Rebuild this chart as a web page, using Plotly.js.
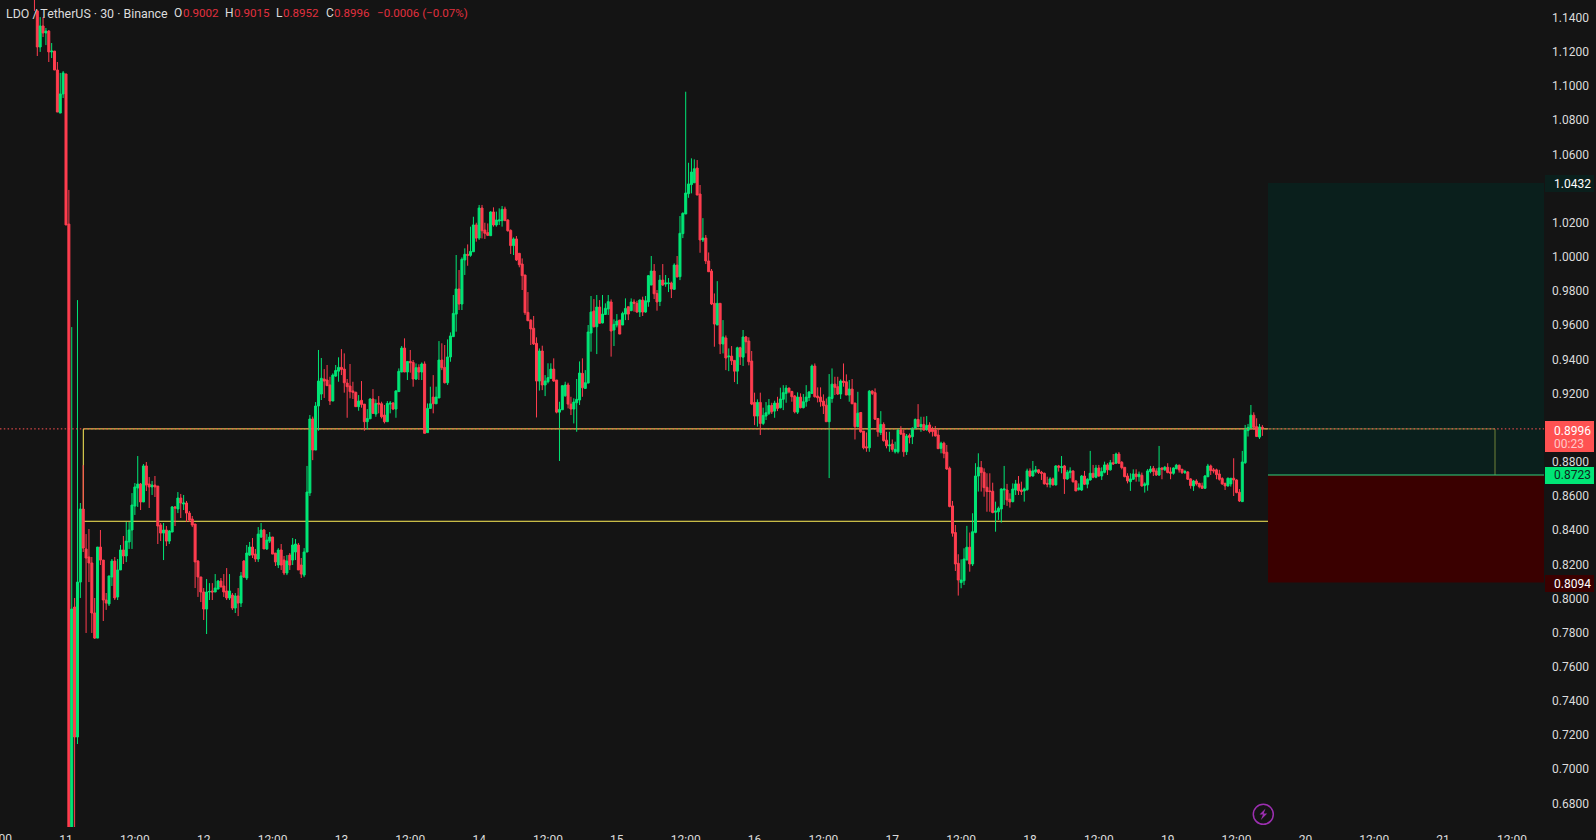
<!DOCTYPE html>
<html><head><meta charset="utf-8">
<script src="https://cdn.plot.ly/plotly-3.0.1.min.js"></script>
<style>html,body{margin:0;padding:0;background:#141414;overflow:hidden}#c{width:1596px;height:840px}</style>
</head><body><div id="c"></div>
<script>
const opens=[1.1600,1.1440,1.1229,1.1352,1.1311,1.1322,1.1200,1.1205,1.1094,1.0842,
1.0954,1.1071,1.0192,.6550,.7950,.7189,.8096,.8524,.8290,.8243,
.8208,.7915,.7768,.8301,.8225,.7991,.7968,.8126,.8219,.8009,
.8167,.8284,.8249,.8331,.8401,.8541,.8647,.8670,.8565,.8776,
.8670,.8653,.8664,.8658,.8430,.8383,.8401,.8336,.8389,.8536,
.8524,.8588,.8553,.8559,.8500,.8465,.8436,.8219,.8126,.8038,
.7938,.8038,.8044,.8038,.8055,.8102,.8073,.8044,.8003,.8020,
.7944,.8015,.7973,.8219,.8120,.8254,.8301,.8260,.8231,.8360,
.8401,.8290,.8336,.8360,.8266,.8196,.8284,.8225,.8149,.8254,
.8225,.8272,.8313,.8196,.8137,.8272,.8618,.9051,.8869,.9127,
.9197,.9285,.9279,.9250,.9156,.9302,.9331,.9353,.9343,.9261,
.9244,.9215,.9207,.9123,.9160,.9138,.9035,.9052,.9168,.9080,
.9144,.9140,.9074,.9035,.9138,.9144,.9109,.9211,.9326,.9466,
.9326,.9388,.9382,.9285,.9353,.9326,.9373,.8971,.9113,.9179,
.9140,.9174,.9396,.9353,.9263,.9414,.9533,.9665,.9812,.9724,
.9982,1.0015,1.0009,1.0030,1.0187,1.0110,1.0286,1.0157,1.0142,1.0124,
1.0263,1.0187,1.0210,1.0212,1.0280,1.0216,1.0155,1.0066,1.0105,1.0021,
.9958,.9894,.9675,.9630,.9582,.9494,.9273,.9449,.9250,.9269,
.9289,.9343,.9279,.9091,.9105,.9187,.9250,.9138,.9109,.9146,
.9162,.9318,.9230,.9261,.9554,.9683,.9591,.9706,.9613,.9663,
.9695,.9736,.9572,.9601,.9630,.9601,.9665,.9708,.9685,.9736,
.9728,.9677,.9747,.9677,.9736,.9835,.9917,.9786,.9739,.9864,
.9841,.9843,.9847,.9810,.9952,.9884,1.0136,1.0251,1.0370,1.0423,
1.0434,1.0520,1.0368,1.0099,1.0110,.9976,.9917,.9728,.9601,.9728,
.9490,.9525,.9415,.9419,.9394,.9331,.9468,.9413,.9531,.9507,
.9390,.9148,.9068,.9148,.9025,.9068,.9084,.9130,.9097,.9144,
.9117,.9166,.9201,.9232,.9212,.9185,.9091,.9179,.9117,.9152,
.9177,.9201,.9361,.9185,.9179,.9156,.9132,.9035,.9171,.9255,
.9240,.9197,.9273,.9269,.9191,.9226,.9144,.9006,.9089,.8980,
.8888,.8882,.9214,.9205,.9054,.8972,.9019,.8927,.8894,.8904,
.8859,.8859,.8986,.8966,.8859,.8955,.8947,.8994,.9048,.9006,
.9019,.8988,.9016,.8991,.8987,.8957,.8879,.8909,.8856,.8762,
.8542,.8386,.8206,.8093,.8104,.8225,.8300,.8202,.8387,.8717,
.8766,.8739,.8651,.8630,.8628,.8505,.8508,.8524,.8635,.8635,
.8581,.8567,.8635,.8671,.8635,.8630,.8637,.8747,.8717,.8743,
.8753,.8739,.8733,.8674,.8669,.8700,.8665,.8776,.8766,.8776,
.8700,.8737,.8747,.8688,.8639,.8635,.8717,.8669,.8694,.8733,
.8710,.8764,.8717,.8739,.8782,.8753,.8795,.8792,.8846,.8797,
.8768,.8717,.8684,.8698,.8729,.8713,.8721,.8661,.8665,.8743,
.8762,.8747,.8723,.8764,.8753,.8768,.8741,.8733,.8760,.8780,
.8756,.8737,.8741,.8700,.8659,.8688,.8674,.8659,.8645,.8713,
.8776,.8753,.8753,.8729,.8702,.8674,.8659,.8671,.8704,.8694,
.8622,.8567,.8795,.8983,.8996,.9073,.9006,.8945,.9002];
const highs=[1.1600,1.1445,1.1404,1.1404,1.1340,1.1328,1.1252,1.1205,1.1141,1.1077,
1.1088,1.1071,1.0392,.9589,.8003,.9747,.8559,.8781,.8377,.8407,
.8243,.8003,.8301,.8401,.8225,.8032,.8132,.8231,.8243,.8231,
.8313,.8366,.8448,.8448,.8617,.8676,.8834,.8676,.8787,.8799,
.8711,.8688,.8717,.8658,.8442,.8442,.8424,.8401,.8541,.8541,
.8623,.8612,.8606,.8571,.8512,.8483,.8436,.8225,.8126,.8061,
.8114,.8090,.8090,.8143,.8108,.8120,.8143,.8178,.8143,.8032,
.8032,.8061,.8155,.8225,.8313,.8331,.8354,.8290,.8418,.8442,
.8407,.8377,.8389,.8360,.8266,.8295,.8319,.8249,.8254,.8266,
.8354,.8348,.8325,.8237,.8295,.8776,.9074,.9065,.9150,.9455,
.9408,.9343,.9367,.9298,.9318,.9367,.9412,.9460,.9435,.9285,
.9373,.9269,.9211,.9191,.9273,.9138,.9109,.9172,.9226,.9166,
.9185,.9152,.9133,.9156,.9156,.9150,.9220,.9347,.9478,.9523,
.9388,.9455,.9396,.9376,.9371,.9382,.9388,.9142,.9240,.9308,
.9240,.9507,.9494,.9484,.9517,.9558,.9777,1.0011,.9923,.9997,
1.0050,1.0073,1.0177,1.0235,1.0200,1.0304,1.0304,1.0200,1.0196,1.0267,
1.0290,1.0265,1.0284,1.0298,1.0294,1.0220,1.0161,1.0114,1.0122,1.0021,
.9991,.9894,.9794,.9634,.9654,.9529,.9464,.9480,.9308,.9377,
.9377,.9406,.9279,.9152,.9246,.9269,.9263,.9181,.9172,.9285,
.9388,.9406,.9337,.9601,.9771,.9753,.9777,.9747,.9777,.9728,
.9777,.9751,.9634,.9665,.9630,.9679,.9757,.9708,.9757,.9751,
.9743,.9751,.9767,.9771,.9894,1.0005,.9958,.9806,.9894,.9958,
.9894,.9876,.9855,.9962,1.0005,1.0239,1.0261,1.0967,1.0551,1.0577,
1.0571,1.0567,1.0421,1.0227,1.0128,1.0026,.9929,.9786,.9858,.9728,
.9630,.9540,.9464,.9478,.9396,.9474,.9474,.9572,.9537,.9529,
.9449,.9205,.9166,.9205,.9117,.9150,.9168,.9146,.9158,.9181,
.9234,.9249,.9249,.9234,.9216,.9191,.9207,.9201,.9197,.9249,
.9214,.9370,.9376,.9236,.9236,.9195,.9171,.9314,.9347,.9298,
.9298,.9283,.9376,.9312,.9279,.9285,.9146,.9210,.9089,.8980,
.8972,.9220,.9220,.9230,.9054,.9097,.9031,.8976,.8976,.8931,
.8918,.8996,.9009,.8990,.8963,.8966,.9002,.9054,.9138,.9064,
.9064,.9068,.9032,.9006,.9010,.8996,.8918,.8918,.8899,.8772,
.8571,.8430,.8259,.8229,.8294,.8425,.8386,.8499,.8792,.8850,
.8805,.8762,.8733,.8733,.8678,.8567,.8538,.8645,.8776,.8671,
.8616,.8674,.8694,.8717,.8684,.8649,.8760,.8762,.8805,.8776,
.8756,.8747,.8737,.8713,.8710,.8708,.8780,.8782,.8834,.8782,
.8753,.8768,.8749,.8694,.8674,.8723,.8747,.8704,.8864,.8782,
.8782,.8782,.8768,.8801,.8792,.8811,.8846,.8854,.8858,.8805,
.8768,.8733,.8733,.8756,.8756,.8743,.8737,.8680,.8758,.8776,
.8776,.8762,.8893,.8768,.8776,.8792,.8768,.8768,.8788,.8784,
.8760,.8753,.8745,.8704,.8694,.8698,.8678,.8678,.8723,.8788,
.8784,.8764,.8760,.8753,.8710,.8678,.8708,.8704,.8821,.8698,
.8641,.8864,.9016,.9022,.9133,.9090,.9055,.9022,.9015];
const lows=[1.1440,1.1176,1.1200,1.1287,1.1240,1.1141,1.1164,1.1094,1.0848,1.0842,
1.0930,1.0187,.6500,.6500,.6550,.7148,.8003,.8272,.7798,.8096,
.7798,.7763,.7768,.8196,.7868,.7933,.7956,.8073,.7991,.7991,
.8167,.8202,.8213,.8290,.8290,.8489,.8536,.8518,.8565,.8629,
.8530,.8606,.8594,.8319,.8336,.8225,.8307,.8319,.8389,.8424,
.8500,.8471,.8518,.8448,.8448,.8418,.8061,.8009,.7979,.7874,
.7792,.7991,.7991,.8038,.8055,.8067,.8009,.7991,.7991,.7933,
.7915,.7897,.7950,.8120,.8108,.8249,.8237,.8214,.8214,.8354,
.8290,.8284,.8325,.8260,.8190,.8178,.8167,.8137,.8137,.8167,
.8196,.8225,.8167,.8120,.8125,.8272,.8600,.8810,.8869,.8982,
.9162,.9174,.9244,.9133,.9156,.9298,.9269,.9308,.9205,.9058,
.9172,.9168,.9123,.9099,.9117,.8982,.8990,.9052,.9080,.9064,
.9084,.9054,.9025,.9035,.9084,.9103,.9058,.9211,.9326,.9326,
.9279,.9322,.9240,.9279,.9279,.9279,.8967,.8971,.9113,.9084,
.9140,.9174,.9337,.9259,.9250,.9386,.9533,.9562,.9689,.9689,
.9894,.9948,1.0001,1.0030,1.0089,1.0099,1.0108,1.0105,1.0122,1.0124,
1.0177,1.0177,1.0187,1.0177,1.0212,1.0148,1.0017,1.0011,.9976,.9939,
.9806,.9660,.9626,.9484,.9484,.9060,.9217,.9220,.9185,.9259,
.9285,.9269,.9084,.8805,.9105,.9181,.9113,.9074,.9025,.8976,
.9133,.9181,.9230,.9261,.9445,.9587,.9431,.9611,.9611,.9660,
.9660,.9416,.9478,.9587,.9548,.9601,.9630,.9630,.9685,.9679,
.9673,.9648,.9654,.9673,.9708,.9835,.9753,.9685,.9712,.9831,
.9825,.9794,.9759,.9810,.9882,.9864,1.0110,1.0251,1.0346,1.0372,
1.0434,1.0362,1.0024,1.0087,.9958,.9913,.9718,.9474,.9601,.9431,
.9435,.9337,.9331,.9367,.9267,.9255,.9367,.9361,.9435,.9365,
.9132,.9015,.9006,.8957,.9015,.9045,.9074,.9080,.9058,.9097,
.9113,.9103,.9146,.9201,.9152,.9084,.9080,.9113,.9113,.9123,
.9156,.9197,.9177,.9148,.9123,.9080,.9035,.8705,.9146,.9191,
.9191,.9168,.9240,.9191,.9152,.9138,.8931,.9002,.8970,.8873,
.8859,.8859,.9191,.9045,.8947,.8957,.8918,.8879,.8859,.8859,
.8849,.8849,.8957,.8830,.8840,.8908,.8904,.8994,.9002,.8976,
.8982,.8982,.8967,.8948,.8948,.8877,.8850,.8821,.8753,.8534,
.8362,.8161,.8017,.8060,.8079,.8225,.8157,.8190,.8382,.8626,
.8626,.8596,.8508,.8508,.8499,.8391,.8460,.8444,.8548,.8542,
.8532,.8563,.8606,.8606,.8606,.8567,.8631,.8710,.8714,.8733,
.8729,.8694,.8667,.8651,.8649,.8661,.8661,.8743,.8733,.8612,
.8694,.8704,.8678,.8628,.8631,.8630,.8665,.8645,.8690,.8704,
.8704,.8713,.8694,.8733,.8723,.8749,.8782,.8788,.8788,.8756,
.8710,.8674,.8630,.8694,.8684,.8684,.8655,.8620,.8631,.8733,
.8717,.8717,.8717,.8698,.8747,.8733,.8698,.8725,.8756,.8737,
.8729,.8729,.8694,.8643,.8630,.8661,.8645,.8641,.8643,.8710,
.8723,.8733,.8698,.8690,.8665,.8635,.8655,.8655,.8600,.8616,
.8565,.8565,.8788,.8948,.8996,.8987,.8948,.8934,.8952];
const closes=[1.1510,1.1229,1.1352,1.1311,1.1322,1.1200,1.1205,1.1094,1.0848,1.0954,
1.1077,1.0187,.6550,.7938,.7189,.8096,.8524,.8295,.8237,.8208,
.7915,.7768,.8301,.8225,.7991,.7973,.8132,.8219,.8003,.8167,
.8284,.8249,.8336,.8401,.8547,.8653,.8670,.8565,.8776,.8664,
.8653,.8664,.8653,.8424,.8383,.8401,.8336,.8395,.8536,.8530,
.8588,.8559,.8559,.8500,.8459,.8430,.8214,.8126,.8038,.7938,
.8038,.8041,.8038,.8061,.8102,.8067,.8038,.8003,.8044,.7944,
.8015,.7973,.8132,.8126,.8266,.8301,.8254,.8231,.8377,.8401,
.8290,.8342,.8360,.8260,.8214,.8284,.8196,.8149,.8219,.8196,
.8313,.8319,.8167,.8143,.8272,.8623,.9051,.8869,.9127,.9273,
.9289,.9273,.9246,.9156,.9308,.9335,.9353,.9341,.9263,.9240,
.9211,.9207,.9123,.9156,.9136,.9035,.9054,.9168,.9084,.9142,
.9138,.9064,.9035,.9142,.9144,.9109,.9215,.9330,.9466,.9326,
.9388,.9380,.9285,.9351,.9326,.9373,.8967,.9113,.9140,.9140,
.9179,.9396,.9351,.9263,.9414,.9537,.9669,.9812,.9724,.9986,
1.0015,1.0009,1.0032,1.0187,1.0110,1.0286,1.0153,1.0138,1.0126,1.0263,
1.0187,1.0216,1.0216,1.0278,1.0212,1.0153,1.0066,1.0105,.9982,.9954,
.9890,.9673,.9626,.9578,.9490,.9273,.9449,.9250,.9273,.9293,
.9343,.9273,.9091,.9107,.9246,.9250,.9138,.9109,.9150,.9166,
.9320,.9234,.9263,.9560,.9677,.9591,.9706,.9611,.9665,.9699,
.9738,.9566,.9605,.9624,.9548,.9669,.9698,.9665,.9736,.9728,
.9677,.9747,.9677,.9743,.9890,.9917,.9784,.9736,.9864,.9835,
.9847,.9847,.9812,.9952,.9882,1.0138,1.0255,1.0374,1.0427,1.0497,
1.0516,1.0362,1.0099,1.0110,.9976,.9913,.9724,.9607,.9728,.9490,
.9531,.9408,.9419,.9392,.9331,.9468,.9415,.9531,.9503,.9386,
.9138,.9068,.9148,.9025,.9072,.9087,.9130,.9093,.9144,.9113,
.9168,.9205,.9232,.9210,.9181,.9093,.9179,.9117,.9152,.9179,
.9209,.9361,.9181,.9175,.9152,.9128,.9035,.9179,.9255,.9236,
.9197,.9273,.9265,.9191,.9226,.9140,.9006,.9085,.8976,.8882,
.8882,.9214,.9201,.9050,.8976,.9019,.8924,.8894,.8898,.8873,
.8873,.8986,.8963,.8859,.8951,.8943,.8996,.9048,.9006,.9019,
.8986,.9013,.8977,.8977,.8952,.8877,.8909,.8850,.8758,.8538,
.8382,.8202,.8108,.8108,.8231,.8300,.8202,.8391,.8717,.8768,
.8737,.8649,.8626,.8626,.8503,.8512,.8528,.8641,.8641,.8577,
.8565,.8641,.8671,.8631,.8626,.8641,.8747,.8717,.8747,.8753,
.8737,.8733,.8671,.8669,.8700,.8665,.8776,.8768,.8772,.8700,
.8739,.8747,.8684,.8630,.8647,.8717,.8669,.8698,.8733,.8710,
.8764,.8717,.8743,.8782,.8753,.8795,.8788,.8846,.8792,.8766,
.8713,.8688,.8700,.8729,.8713,.8727,.8659,.8671,.8747,.8758,
.8743,.8723,.8764,.8756,.8768,.8737,.8733,.8764,.8780,.8753,
.8737,.8743,.8698,.8661,.8688,.8671,.8655,.8645,.8717,.8776,
.8749,.8747,.8725,.8698,.8671,.8659,.8704,.8704,.8694,.8620,
.8571,.8799,.8987,.9002,.9073,.9002,.8948,.9004,.8996];

const priceTicks=[1.14,1.12,1.10,1.08,1.06,1.02,1.00,.98,.96,.94,.92,.88,.86,.84,.82,.80,.78,.76,.74,.72,.70,.68];
const timeLabels=["11","12:00","12","12:00","13","12:00","14","12:00","15","12:00","16","12:00","17","12:00","18","12:00","19","12:00","20","12:00","21","12:00"];
const lastPrice=.8993, entryPrice=.8723, targetPrice=1.0432, stopPrice=.8094;
const zoneHigh=.8993, zoneLow=.8452;

const HALF=1800000, T0=Date.UTC(2025,9,11);
const t=i=>T0+i*HALF;                 // bar number -> time; bar 0 is the 11th 00:00
const times=opens.map((_,k)=>t(k-11));
const tickvals=timeLabels.map((_,k)=>t(k*24));

const W=1544,H=827;                   // plot box in page pixels
const px=x=>x/W, py=y=>1-y/H;         // decoration helpers
const barAt=x=>(x-66)/2.869;
const xL=t(barAt(0)), xR=t(barAt(W));
const toolL=t(barAt(1268)), toolEnd=t(barAt(1495)), zoneL=t(barAt(83.3));
const FONT='Roboto, "Liberation Sans", sans-serif';
const GREEN='#00e676', RED='#ff3d4f', YELLOW='#ffee58';

const line=(x0,y0,x1,y1,color,extra={},layer='above')=>({type:'line',xref:'x',yref:'y',x0,y0,x1,y1,line:{color,width:1,...extra},layer});
const badge=(y0,y1,color)=>({type:'rect',xref:'paper',yref:'paper',x0:px(1545),x1:px(1594),y0:py(y1),y1:py(y0),fillcolor:color,line:{width:0},layer:'above'});
const hdr=(x,text,color,size=12)=>({xref:'paper',yref:'paper',x:px(x),y:py(13),xanchor:'left',yanchor:'middle',text,showarrow:false,font:{family:FONT,size,color},borderpad:0,borderwidth:0});
const blab=(y,text,color)=>({xref:'paper',yref:'paper',x:px(1553),y:py(y),xanchor:'left',yanchor:'middle',text,showarrow:false,font:{family:FONT,size:12,color},borderpad:0});

const shapes=[
 line(zoneL,zoneLow,zoneL,zoneHigh,YELLOW,{},'below'),
 line(zoneL,zoneLow,toolL,zoneLow,YELLOW,{},'below'),
 line(zoneL,zoneHigh,toolL,zoneHigh,YELLOW,{},'below'),
 {type:'rect',xref:'x',yref:'y',x0:toolL,x1:xR,y0:entryPrice,y1:targetPrice,fillcolor:'#0a1f1c',line:{width:0},layer:'below'},
 {type:'rect',xref:'x',yref:'y',x0:toolL,x1:xR,y0:stopPrice,y1:entryPrice,fillcolor:'#3a0000',line:{width:0},layer:'below'},
 line(toolL,lastPrice,toolEnd,lastPrice,'#6f8238'),
 line(toolEnd,lastPrice,toolEnd,entryPrice,'#6f8238'),
 line(toolL,entryPrice,xR,entryPrice,'#2fd27c',{width:1.2}),
 line(xL,lastPrice,xR,lastPrice,'#ff5252',{dash:'1.5px,2.3px'}),
 badge(421,452,'#ff5252'),
 badge(467,484,GREEN),
 badge(175,192,'#0a1f1c'),
 badge(575,592,'#3a0000'),
 {type:'circle',xref:'paper',yref:'paper',x0:px(1253.3),x1:px(1273.3),y0:py(824.3),y1:py(804.3),line:{color:'#9c2fb0',width:1.5},fillcolor:'rgba(0,0,0,0)',layer:'above'},
 {type:'path',xref:'paper',yref:'paper',
  path:`M ${px(1265.5)} ${py(808.5)} L ${px(1259.5)} ${py(814.5)} L ${px(1263)} ${py(814.5)} L ${px(1260.8)} ${py(820)} L ${px(1267.2)} ${py(813.5)} L ${px(1263.7)} ${py(813.5)} Z`,
  fillcolor:'#9c2fb0',line:{width:0},layer:'above'}
];
const REDTXT='#e0303f', HEAD='#dcdcdc';
const annotations=[
 hdr(6,'LDO / TetherUS · 30 · Binance',HEAD,12.4),
 hdr(174.3,'O',HEAD),hdr(183,'0.9002',REDTXT,11.6),
 hdr(225.3,'H',HEAD),hdr(233.7,'0.9015',REDTXT,11.6),
 hdr(276.4,'L',HEAD),hdr(283,'0.8952',REDTXT,11.6),
 hdr(325.7,'C',HEAD),hdr(333.7,'0.8996',REDTXT,11.6),
 hdr(376.7,'−0.0006 (−0.07%)',REDTXT,11.6),
 blab(430.5,'0.8996','#ffffff'),
 blab(443.5,'00:23','#ffc9c9'),
 blab(475.5,'0.8723','#10261c'),
 blab(184,'1.0432','#ffffff'),
 blab(584,'0.8094','#ffffff'),
 {xref:'paper',yref:'paper',x:px(-2.85),y:py(827),xanchor:'center',yanchor:'top',yshift:-4,text:'12:00',showarrow:false,font:{family:FONT,size:12,color:'#dcdcdc'},borderpad:0}
];

Plotly.newPlot('c',[{
 type:'candlestick',x:times,open:opens,high:highs,low:lows,close:closes,
 increasing:{line:{color:GREEN,width:1},fillcolor:GREEN},
 decreasing:{line:{color:RED,width:1},fillcolor:RED},
 whiskerwidth:0,showlegend:false,hoverinfo:'skip'
}],{
 width:1596,height:840,margin:{l:0,r:52,t:0,b:13,pad:0},
 paper_bgcolor:'#141414',plot_bgcolor:'#141414',showlegend:false,boxgap:.3,boxgroupgap:0,
 xaxis:{type:'date',range:[xL,xR],rangeslider:{visible:false},tickmode:'array',tickvals,ticktext:timeLabels,
  showgrid:false,zeroline:false,showline:false,ticks:'',ticklen:0,tickangle:0,automargin:false,ticklabelstandoff:4,
  tickfont:{family:FONT,size:12,color:'#dcdcdc'}},
 yaxis:{side:'right',range:[1.1504-827/1708,1.1504],tickmode:'array',tickvals:priceTicks,ticktext:priceTicks.map(v=>v.toFixed(4)),
  showgrid:false,zeroline:false,showline:false,ticks:'',automargin:false,ticklabelstandoff:7,
  tickfont:{family:FONT,size:12,color:'#dcdcdc'}},
 shapes,annotations,hovermode:false
},{displayModeBar:false,staticPlot:true});
</script></body></html>
